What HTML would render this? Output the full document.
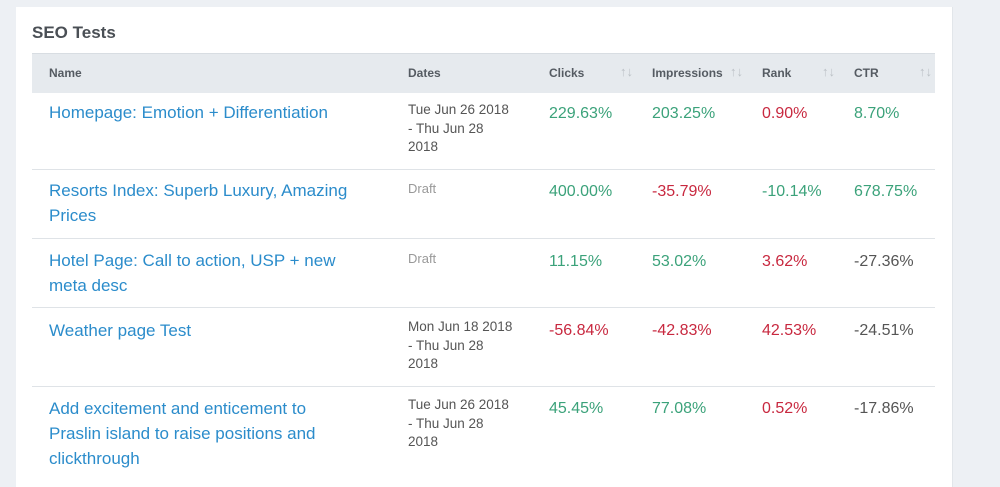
<!DOCTYPE html>
<html><head><style>
body{margin:0;width:1000px;height:479px;background:#edf0f4;font-family:"Liberation Sans",sans-serif;position:relative;overflow:hidden}
.card{position:absolute;left:16px;top:7px;width:936px;height:480px;background:#fff;border-right:1px solid #e2e6ea}
.t{position:absolute;white-space:nowrap}
.h{font-size:12px;font-weight:bold;color:#555b62;top:66px}
.s{font-size:13px;color:#bcc1c6;top:64px}
.n{font-size:17px;color:#2b8ccb;line-height:25px;left:49px}
.d{font-size:13.5px;color:#555;line-height:18.5px;left:408px}
.dr{font-size:13px;color:#999;left:408px}
.v{font-size:16px;line-height:20px}
.g{color:#3ba27a}.r{color:#c8283f}.k{color:#555}
.line{position:absolute;left:32px;width:903px;height:1px;background:#dfe3e7}
</style></head><body>
<div class="card"></div>
<div class="t" style="left:32px;top:23px;font-size:17px;font-weight:bold;color:#4a4f55">SEO Tests</div>
<div style="position:absolute;left:32px;top:53px;width:903px;height:39px;background:#e6eaee;border-top:1px solid #d8dde2"></div>
<div class="t h" style="left:49px">Name</div>
<div class="t h" style="left:408px">Dates</div>
<div class="t h" style="left:549px">Clicks</div>
<div class="t h" style="left:652px">Impressions</div>
<div class="t h" style="left:762px">Rank</div>
<div class="t h" style="left:854px">CTR</div>
<div class="t s" style="left:620px">↑↓</div>
<div class="t s" style="left:730px">↑↓</div>
<div class="t s" style="left:822px">↑↓</div>
<div class="t s" style="left:919px">↑↓</div>
<div class="line" style="top:169px"></div>
<div class="line" style="top:238px"></div>
<div class="line" style="top:307px"></div>
<div class="line" style="top:386px"></div>

<div class="t n" style="top:100px">Homepage: Emotion + Differentiation</div>
<div class="t d" style="top:101px">Tue Jun 26 2018<br>- Thu Jun 28<br>2018</div>
<div class="t v g" style="top:104px;left:549px">229.63%</div>
<div class="t v g" style="top:104px;left:652px">203.25%</div>
<div class="t v r" style="top:104px;left:762px">0.90%</div>
<div class="t v g" style="top:104px;left:854px">8.70%</div>

<div class="t n" style="top:178px">Resorts Index: Superb Luxury, Amazing<br>Prices</div>
<div class="t dr" style="top:181px">Draft</div>
<div class="t v g" style="top:182px;left:549px">400.00%</div>
<div class="t v r" style="top:182px;left:652px">-35.79%</div>
<div class="t v g" style="top:182px;left:762px">-10.14%</div>
<div class="t v g" style="top:182px;left:854px">678.75%</div>

<div class="t n" style="top:248px">Hotel Page: Call to action, USP + new<br>meta desc</div>
<div class="t dr" style="top:251px">Draft</div>
<div class="t v g" style="top:252px;left:549px">11.15%</div>
<div class="t v g" style="top:252px;left:652px">53.02%</div>
<div class="t v r" style="top:252px;left:762px">3.62%</div>
<div class="t v k" style="top:252px;left:854px">-27.36%</div>

<div class="t n" style="top:318px">Weather page Test</div>
<div class="t d" style="top:318px">Mon Jun 18 2018<br>- Thu Jun 28<br>2018</div>
<div class="t v r" style="top:321px;left:549px">-56.84%</div>
<div class="t v r" style="top:321px;left:652px">-42.83%</div>
<div class="t v r" style="top:321px;left:762px">42.53%</div>
<div class="t v k" style="top:321px;left:854px">-24.51%</div>

<div class="t n" style="top:396px">Add excitement and enticement to<br>Praslin island to raise positions and<br>clickthrough</div>
<div class="t d" style="top:396px">Tue Jun 26 2018<br>- Thu Jun 28<br>2018</div>
<div class="t v g" style="top:399px;left:549px">45.45%</div>
<div class="t v g" style="top:399px;left:652px">77.08%</div>
<div class="t v r" style="top:399px;left:762px">0.52%</div>
<div class="t v k" style="top:399px;left:854px">-17.86%</div>
</body></html>
